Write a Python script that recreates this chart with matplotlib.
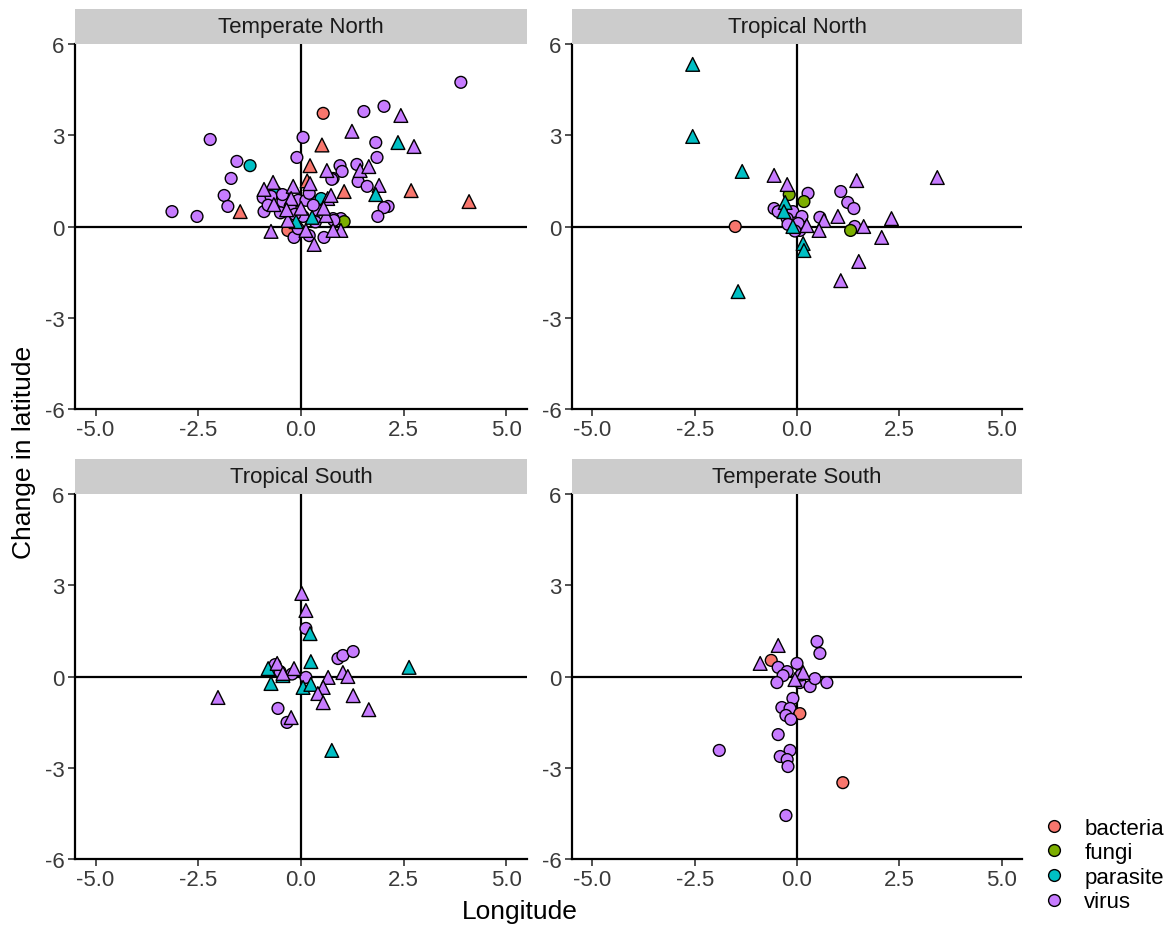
import matplotlib
matplotlib.use("Agg")
import matplotlib.pyplot as plt
from matplotlib.lines import Line2D
import numpy as np

plt.rcParams['font.family'] = ['Liberation Sans', 'DejaVu Sans']
plt.rcParams['axes.unicode_minus'] = False

# ---- data ----
# kind: b = bacteria, f = fungi, p = parasite, v = virus ; shape: o = circle, ^ = triangle
tn_x = [0.15, 3.89, 0.54, -2.21, 2.02, 1.53, 2.43, -1.56, -1.24, -1.70, -1.87, -1.78, -3.14, -2.53, -1.48,
        0.05, -0.10, 0.51, 0.22, 1.24, 1.82, 2.36, 2.75, 1.85, 0.95, 1.00, 1.36, 1.44, 1.65, 0.78,
        1.39, 1.61, 1.90, 1.05, 1.82, 2.68, 4.09, 2.12, 2.02, 1.87, 0.97, 1.05, 0.78, 0.97, 0.63,
        0.75, -0.68, -0.90, -0.19, 0.22, -0.63, -0.73, -0.32, -0.17, 0.32, 0.56, 0.27, -0.92, -0.73, -0.90,
        -0.66, -0.44, -0.24, -0.26, -0.07, 0.12, 0.20, 0.41, 0.49, 0.65, 0.73, 0.41, 0.05, -0.12, -0.32,
        -0.07, 0.12, 0.61, 0.80, 0.78, -0.50, -0.35, 0.00, 0.30, -0.80, 0.55, -0.15, 0.35, 0.20, -0.45]
tn_y = [1.50, 4.74, 3.72, 2.86, 3.95, 3.78, 3.65, 2.14, 2.00, 1.58, 1.02, 0.66, 0.49, 0.33, 0.49,
        2.93, 2.27, 2.68, 2.00, 3.13, 2.76, 2.76, 2.63, 2.27, 2.00, 1.81, 2.04, 1.84, 1.97, 1.58,
        1.48, 1.32, 1.35, 1.15, 1.05, 1.18, 0.82, 0.66, 0.62, 0.33, 0.26, 0.16, 0.26, -0.13, 1.84,
        1.55, 1.45, 1.22, 1.32, 1.41, 1.15, -0.16, -0.13, -0.36, -0.59, -0.36, 0.30, 0.95, 0.99, 0.49,
        0.72, 0.82, 0.92, 0.66, 0.86, 0.86, 1.09, 0.82, 0.92, 0.92, 1.02, 0.53, 0.33, 0.16, 0.20,
        -0.07, -0.13, 0.36, 0.20, -0.13, 0.45, 0.55, 0.60, 0.70, 0.70, 0.60, 0.40, 0.15, -0.30, 1.05]
tn_kind = list("bvbvvvvvpvvvvvb" "vvbbvvpvvvvvvvv" "vvvbpbbvvvvfvvv" "vvvvvpvbvvvpvvv"
               "vvvvvvvvpvvvvpv" "vvvvvvvvvvvvvvv")
tn_shape = list("^ooooo^ooooooo^" "oo^^^o^^oooo^^o" "oo^^^^^oooooo^^" "o^^^^o^oo^o^ooo"
                "^o^oooooo^^oo^^" "o^^o^o^^oo^oooo")

trn_x = [-2.55, -2.55, -1.34, -0.56, -0.24, -0.19, -0.29, -0.56, -0.46, -1.51, -1.44, 0.27, 0.17, -0.10,
         -0.24, 0.12, 0.56, 0.66, 1.00, 0.54, 1.07, 1.24, 1.39, 1.46, 3.43, 2.31, 2.07, 1.41, 1.63,
         1.31, 1.51, 1.07, 0.15, 0.17, -0.10, 0.24, 0.07, -0.32, -0.22, 0.03, -0.05]
trn_y = [5.33, 2.96, 1.81, 1.68, 1.38, 1.05, 0.79, 0.59, 0.49, 0.00, -2.14, 1.09, 0.82, 0.49,
         0.26, 0.33, 0.30, 0.20, 0.33, -0.13, 1.15, 0.79, 0.59, 1.51, 1.61, 0.26, -0.36, 0.00, 0.00,
         -0.13, -1.15, -1.78, -0.56, -0.79, 0.00, 0.03, -0.13, 0.49, 0.07, 0.10, -0.15]
trn_kind = list("pppvvfpvvbpvfv" "vvvvvvvvvvvvvvv" "fvvpppvvpvvv")
trn_shape = list("^^^^^o^ooo^ooo" "ooo^^^ooo^^^^o^" "o^^^^^^o^ooo")

ts_x = [0.02, 0.12, 0.12, 0.22, 0.90, 1.02, 1.27, 0.24, -0.80, -0.58, -0.51, -0.17, -0.44, -0.22,
        0.12, -0.73, 0.05, 0.24, 0.66, 1.02, 1.14, 0.54, 0.41, 0.54, 1.27, 1.65, -2.02, -0.56,
        -0.24, -0.34, 0.75, 2.63, -0.63, -0.44]
ts_y = [2.73, 2.17, 1.58, 1.41, 0.59, 0.69, 0.82, 0.49, 0.26, 0.43, 0.16, 0.26, 0.03, 0.08,
        -0.03, -0.23, -0.36, -0.26, -0.03, 0.13, 0.00, -0.36, -0.56, -0.86, -0.63, -1.09, -0.69, -1.05,
        -1.35, -1.51, -2.43, 0.30, 0.39, 0.10]
ts_kind = list("vvvpvvvppvvvpv" "vpppvvvvvvvvvv" "vvppvv")
ts_shape = list("^^o^ooo^^^o^^o" "o^^^^^^^^^^^^o" "^o^^o^")

tes_x = [0.49, 0.56, -0.46, -0.90, -0.63, -0.46, -0.24, 0.00, 0.15, -0.05, -0.34, -0.49, 0.07, 0.32,
         0.44, 0.73, -0.10, -0.37, -0.17, 0.07, -0.27, -0.15, -0.46, -1.90, -0.17, -0.41, -0.24, -0.22,
         1.12, -0.27, 0.10]
tes_y = [1.15, 0.76, 1.02, 0.43, 0.53, 0.30, 0.16, 0.43, 0.13, -0.10, 0.03, -0.20, -0.20, -0.33,
         -0.07, -0.20, -0.72, -1.02, -1.05, -1.22, -1.28, -1.41, -1.91, -2.43, -2.43, -2.63, -2.73, -2.96,
         -3.49, -4.57, 0.05]
tes_kind = list("vvvvbvvvvvvvvv" "vvvvvbvvvvvvvv" "bvv")
tes_shape = list("oo^^oooo^^oooo" "oooooooooooooo" "ooo")

panel_titles = ["Temperate North", "Tropical North", "Tropical South", "Temperate South"]
kind_labels = ["bacteria", "fungi", "parasite", "virus"]
kind_colors = {"b": "#F8766D", "f": "#7CAE00", "p": "#00BFC4", "v": "#C77CFF"}

panels = [(tn_x, tn_y, tn_kind, tn_shape), (trn_x, trn_y, trn_kind, trn_shape),
          (ts_x, ts_y, ts_kind, ts_shape), (tes_x, tes_y, tes_kind, tes_shape)]

# ---- layout (pixel boxes: left, top, right, bottom) ----
W, H = 1169, 929
boxes = [(75, 45, 527, 410), (572, 45, 1022, 410), (75, 495, 527, 860), (572, 495, 1022, 860)]
strip_h = 35


def frac(left, top, right, bottom):
    return [left / W, 1 - bottom / H, (right - left) / W, (bottom - top) / H]


fig = plt.figure(figsize=(W / 100, H / 100), dpi=100)

for title, (x, y, kind, shape), (l, t, r, b) in zip(panel_titles, panels, boxes):
    ax = fig.add_axes(frac(l, t, r, b))
    x = np.array(x)
    y = np.array(y)
    kind = np.array(kind)
    shape = np.array(shape)
    ax.axhline(0, color='black', lw=1.6, zorder=1)
    ax.axvline(0, color='black', lw=1.6, zorder=1)
    for mk, sz in [('o', 72), ('^', 98)]:
        m = shape == mk
        ax.scatter(x[m], y[m], c=[kind_colors[k] for k in kind[m]], marker=mk, s=sz,
                   edgecolors='black', linewidths=1.0, zorder=3)
    ax.set_xlim(-5.5, 5.5)
    ax.set_ylim(-6, 6)
    ax.set_xticks([-5, -2.5, 0, 2.5, 5])
    ax.set_xticklabels(['-5.0', '-2.5', '0.0', '2.5', '5.0'])
    ax.set_yticks([-6, -3, 0, 3, 6])
    ax.set_yticklabels(['-6', '-3', '0', '3', '6'])
    ax.tick_params(length=5, width=1.2, pad=2.5, labelsize=16, labelcolor='#3a3a3a', color='#333333')
    for s in ['top', 'right']:
        ax.spines[s].set_visible(False)
    for s in ['left', 'bottom']:
        ax.spines[s].set_linewidth(1.6)

    sax = fig.add_axes(frac(l, t - strip_h, r, t))
    sax.set_facecolor('#CCCCCC')
    sax.set_xticks([])
    sax.set_yticks([])
    for s in sax.spines.values():
        s.set_visible(False)
    sax.text(0.5, 0.5, title, ha='center', va='center', fontsize=16, color='#1A1A1A',
             transform=sax.transAxes)

fig.text(520 / W, 1 - 912 / H, "Longitude", ha='center', va='center', fontsize=19, color='black')
fig.text(24 / W, 1 - 452 / H, "Change in latitude", ha='center', va='center', rotation=90,
         fontsize=19, color='black')

handles = [Line2D([], [], marker='o', linestyle='', markerfacecolor=kind_colors[k],
                  markeredgecolor='black', markeredgewidth=1.0, markersize=8.5)
           for k in ['b', 'f', 'p', 'v']]
fig.legend(handles, kind_labels, loc='center left', bbox_to_anchor=(1041 / W, 1 - 866 / H),
           frameon=False, fontsize=16, handletextpad=0.75, labelspacing=0.16,
           handlelength=1.2, borderaxespad=0, borderpad=0)

fig.savefig("out.png", dpi=100)
